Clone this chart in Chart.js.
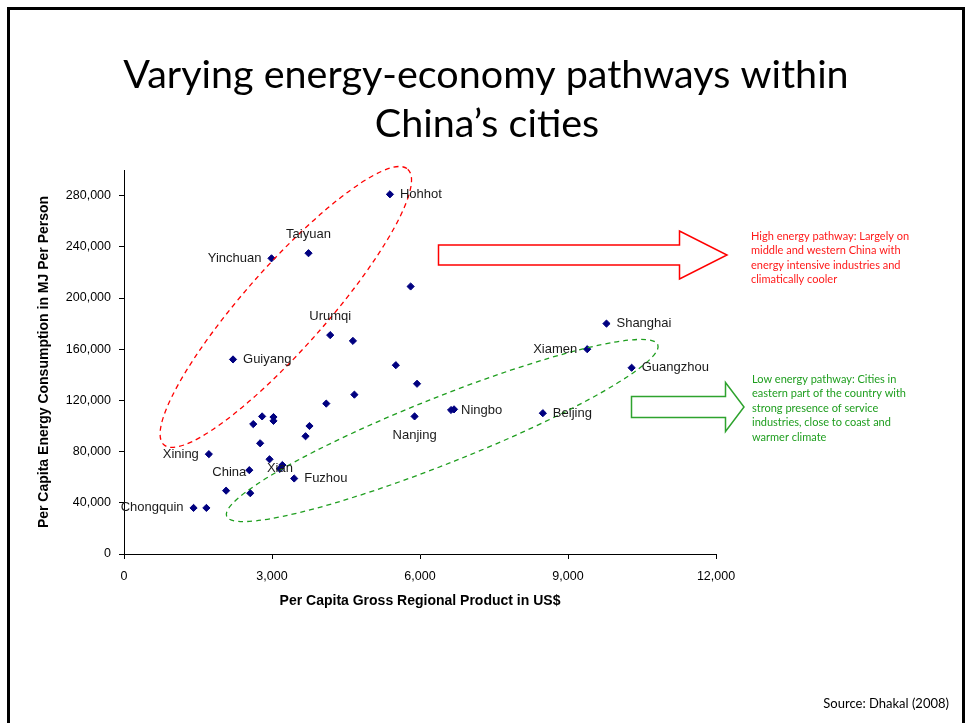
<!DOCTYPE html>
<html>
<head>
<meta charset="utf-8">
<title>Energy-economy pathways</title>
<script src="https://cdn.jsdelivr.net/npm/chart.js@4.4.1/dist/chart.umd.min.js"></script>
<style>
  html, body { margin: 0; padding: 0; background: #fff; }
  canvas { display: block; }
</style>
</head>
<body>
<canvas id="pathways" width="967" height="723"></canvas>
<script>
// Per capita GRP (US$) vs per capita energy use (MJ), Chinese cities
const cityNames = [
  "Hohhot", "Taiyuan", "Yinchuan", "", "Urumqi", "", "Guiyang", "", "", "",
  "", "Nanjing", "", "", "", "", "", "", "", "Xining",
  "", "", "Xian", "China", "Fuzhou", "", "", "Chongquin", "",
  "Shanghai", "Xiamen", "Guangzhou", "Ningbo", "", "Beijing"
];
const grpUsd = [
  5390, 3740, 2990, 5810, 4180, 4640, 2210, 5510, 5940, 4670,
  4100, 5890, 2800, 2620, 3030, 3030, 3760, 3680, 2760, 1720,
  2950, 3210, 3160, 2540, 3450, 2070, 2560, 1410, 1670,
  9780, 9390, 10290, 6630, 6690, 8490
];
const energyMj = [
  281000, 235000, 231000, 209000, 171000, 166500, 152000, 147500, 133000, 124500,
  117500, 107500, 107500, 101500, 107000, 104000, 100000, 92000, 86500, 78000,
  74000, 69500, 66500, 65500, 59000, 49500, 47500, 36000, 36000,
  180000, 160000, 145500, 112500, 113000, 110000
];
// where each city name sits relative to its marker
const labelSide = [
  "right", "above", "left", "", "above", "", "right", "", "", "",
  "", "below", "", "", "", "", "", "", "", "left",
  "", "", "center", "leftNear", "right", "", "", "left", "",
  "right", "left", "right", "right", "", "right"
];
const xTickValues = [0, 3000, 6000, 9000, 12000];
const yTickValues = [0, 40000, 80000, 120000, 160000, 200000, 240000, 280000];

const points = grpUsd.map((x, i) => ({ x: x, y: energyMj[i] }));

const sideOffsets = {
  right: [10, 0, "left"],
  left: [-10, 0, "right"],
  leftNear: [-3, 2, "right"],
  above: [0, -19, "center"],
  below: [0, 19, "center"],
  center: [0, 0, "center"],
};

const fmt = (v) => Number(v).toLocaleString("en-US");

const overlay = {
  id: "overlay",
  beforeDraw(chart) {
    const ctx = chart.ctx;
    ctx.save();
    ctx.fillStyle = "#fff";
    ctx.fillRect(0, 0, chart.width, chart.height);

    // slide frame
    ctx.strokeStyle = "#000";
    ctx.lineWidth = 3;
    ctx.beginPath();
    ctx.moveTo(8.5, 723);
    ctx.lineTo(8.5, 8.5);
    ctx.lineTo(963.5, 8.5);
    ctx.lineTo(963.5, 723);
    ctx.stroke();

    // heading
    ctx.fillStyle = "#000";
    ctx.textAlign = "center";
    ctx.textBaseline = "alphabetic";
    ctx.font = "39.5px Lato";
    ctx.fillText("Varying energy-economy pathways within", 486, 88);
    ctx.fillText("China\u2019s cities", 487, 137);

    ctx.font = "13px Lato";
    ctx.textAlign = "right";
    ctx.fillText("Source: Dhakal (2008)", 949, 708);
    ctx.restore();
  },
  afterDatasetsDraw(chart) {
    const ctx = chart.ctx;
    const xs = chart.scales.x;
    const ys = chart.scales.y;
    ctx.save();

    // dashed envelopes around the two groups
    const rings = [
      { x: 3280, y: 193000, a: 184, b: 41, rot: -48.5, color: "#ff0000" },
      { x: 6450, y: 96500, a: 232, b: 33, rot: -21.7, color: "#1f9e1f" },
    ];
    ctx.lineWidth = 1.3;
    ctx.setLineDash([5, 4]);
    rings.forEach((r) => {
      ctx.strokeStyle = r.color;
      ctx.beginPath();
      ctx.ellipse(xs.getPixelForValue(r.x), ys.getPixelForValue(r.y), r.a, r.b,
        (r.rot * Math.PI) / 180, 0, Math.PI * 2);
      ctx.stroke();
    });
    ctx.setLineDash([]);

    // block arrows
    const arrow = (x0, x1, x2, yc, body, head, color) => {
      ctx.beginPath();
      ctx.moveTo(x0, yc - body);
      ctx.lineTo(x1, yc - body);
      ctx.lineTo(x1, yc - head);
      ctx.lineTo(x2, yc);
      ctx.lineTo(x1, yc + head);
      ctx.lineTo(x1, yc + body);
      ctx.lineTo(x0, yc + body);
      ctx.closePath();
      ctx.fillStyle = "#fff";
      ctx.fill();
      ctx.strokeStyle = color;
      ctx.lineWidth = 1.5;
      ctx.stroke();
    };
    arrow(438.5, 679.5, 727, 255, 10, 24, "#ff0000");
    arrow(631.5, 725.5, 744, 407, 10.5, 24.5, "#2ea32e");

    ctx.font = "11px Lato";
    ctx.textAlign = "left";
    ctx.textBaseline = "middle";
    ctx.fillStyle = "#ff1a1a";
    ["High energy pathway: Largely on", "middle and western China with",
     "energy intensive industries and", "climatically cooler"]
      .forEach((t, i) => ctx.fillText(t, 751, 236 + i * 14.6));
    ctx.fillStyle = "#1f9e1f";
    ["Low energy pathway: Cities in", "eastern part of the country with",
     "strong presence of service", "industries, close to coast and",
     "warmer climate"]
      .forEach((t, i) => ctx.fillText(t, 752, 379 + i * 14.5));

    // city names
    const meta = chart.getDatasetMeta(0);
    ctx.font = "13px 'Liberation Sans'";
    ctx.fillStyle = "#1a1a1a";
    meta.data.forEach((pt, i) => {
      if (!cityNames[i]) return;
      const [dx, dy, align] = sideOffsets[labelSide[i]];
      ctx.textAlign = align;
      ctx.fillText(cityNames[i], pt.x + dx, pt.y + dy);
    });
    ctx.restore();
  },
};

new Chart(document.getElementById("pathways"), {
  type: "scatter",
  data: {
    datasets: [
      {
        data: points,
        pointStyle: "rectRot",
        pointRadius: 3.6,
        pointHoverRadius: 3.6,
        backgroundColor: "#000080",
        borderColor: "#000080",
        borderWidth: 1,
      },
    ],
  },
  plugins: [overlay],
  options: {
    responsive: false,
    animation: false,
    events: [],
    layout: { padding: { left: 30, top: 170, right: 251, bottom: 100 } },
    plugins: {
      legend: { display: false },
      title: { display: false },
      tooltip: { enabled: false },
    },
    scales: {
      x: {
        type: "linear",
        min: 0,
        max: 12000,
        afterFit: (s) => { s.height = 69; },
        afterBuildTicks: (s) => {
          s.ticks = xTickValues.map((v) => ({ value: v }));
        },
        border: { color: "#000", width: 1 },
        grid: { drawOnChartArea: false, color: "#000", tickLength: 5 },
        ticks: {
          color: "#000",
          padding: 10,
          font: { family: "'Liberation Sans'", size: 12.5 },
          callback: (v) => fmt(v),
        },
        title: {
          display: true,
          text: "Per Capita Gross Regional Product in US$",
          color: "#000",
          font: { family: "'Liberation Sans'", size: 14, weight: "bold" },
          padding: { top: 0, bottom: 13.5 },
        },
      },
      y: {
        type: "linear",
        min: 0,
        max: 300000,
        afterFit: (s) => { s.width = 94; },
        afterBuildTicks: (s) => {
          s.ticks = yTickValues.map((v) => ({ value: v }));
        },
        border: { color: "#000", width: 1 },
        grid: { drawOnChartArea: false, color: "#000", tickLength: 5 },
        ticks: {
          color: "#000",
          padding: 8,
          font: { family: "'Liberation Sans'", size: 12.5 },
          callback: (v) => fmt(v),
        },
        title: {
          display: true,
          text: "Per Capita Energy Consumption in MJ Per Person",
          color: "#000",
          font: { family: "'Liberation Sans'", size: 14, weight: "bold" },
          padding: { top: 5.5, bottom: 0 },
        },
      },
    },
  },
});
</script>
</body>
</html>
